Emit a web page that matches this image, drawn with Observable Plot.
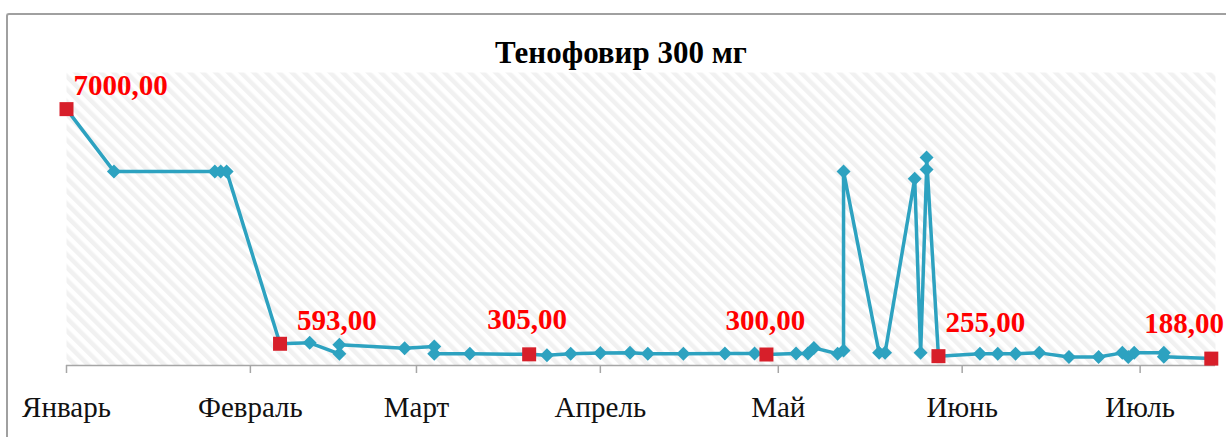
<!DOCTYPE html>
<html>
<head>
<meta charset="utf-8">
<script src="https://cdn.jsdelivr.net/npm/d3@7"></script>
<script src="https://cdn.jsdelivr.net/npm/@observablehq/plot@0.6"></script>
<style>
  html, body { margin: 0; padding: 0; background: #fff; overflow: hidden; }
  #wrap { position: relative; width: 1226px; height: 437px; overflow: hidden; }
  #border { position: absolute; left: 6px; top: 13px; width: 1400px; height: 600px;
            border-top: 2px solid #a0a0a0; border-left: 2px solid #a0a0a0; border-top-left-radius: 3px; box-sizing: border-box; }
  #title { position: absolute; left: 0; top: 37px; width: 1242px; text-align: center;
           font-family: "Liberation Serif", serif; font-weight: bold; font-size: 31px; line-height: 1; color: #000; }
  #chart { position: absolute; left: 0; top: 0; }
</style>
</head>
<body>
<div id="wrap">
  <div id="border"></div>
  <div id="chart"></div>
  <div id="title">Тенофовир 300 мг</div>
</div>
<script>
// ---- data ----
const dates = ["2019-01-01","2019-01-09","2019-01-26","2019-01-27","2019-01-28","2019-02-06","2019-02-11","2019-02-16","2019-02-16","2019-02-27",
  "2019-03-04","2019-03-04","2019-03-10","2019-03-20","2019-03-23","2019-03-27","2019-04-01","2019-04-06","2019-04-09","2019-04-15",
  "2019-04-22","2019-04-27","2019-04-29","2019-05-04","2019-05-06","2019-05-07","2019-05-11","2019-05-12","2019-05-12","2019-05-18",
  "2019-05-19","2019-05-24","2019-05-25","2019-05-26","2019-05-26","2019-05-28","2019-06-04","2019-06-07","2019-06-10","2019-06-14",
  "2019-06-19","2019-06-24","2019-06-28","2019-06-29","2019-06-30","2019-07-05","2019-07-05","2019-07-13"];
const values = [7000,5300,5300,5300,5300,593,620,320,565,473,
  520,320,320,305,280,320,340,345,320,320,
  330,330,300,330,330,480,320,410,5300,345,
  345,5100,345,5350,5680,255,320,320,320,345,
  230,230,345,230,345,345,240,188];
const highlightIdx = [0,5,13,22,35,47];
const labelTexts = ["7000,00","593,00","305,00","300,00","255,00","188,00"];
const labelDx = [7,17,-42,-41,7,-67];
const labelDy = [-14,-14,-25,-25,-24,-26];
const monthLabels = ["Январь","Февраль","Март","Апрель","Май","Июнь","Июль"];
const monthTicks = ["2019-01-01","2019-02-01","2019-03-01","2019-04-01","2019-05-01","2019-06-01","2019-07-01"];

// ---- build ----
const data = dates.map((d, i) => ({date: new Date(d + "T00:00:00Z"), value: values[i], i}));
const hl = highlightIdx.map((k, j) => ({...data[k], label: labelTexts[j], dx: labelDx[j], dy: labelDy[j]}));
const plain = data.filter(d => !highlightIdx.includes(d.i));
const tickDates = monthTicks.map(d => new Date(d + "T00:00:00Z"));

const teal = "#2da2c0";
const marks = [
  Plot.frame({fill: "url(#hatch)", stroke: null}),
  Plot.ruleY([0], {stroke: "#a6a6a6", strokeWidth: 1.5}),
  Plot.axisX({ticks: tickDates, tickFormat: (d) => monthLabels[tickDates.findIndex(t => +t === +d)],
    tickSize: 8, tickPadding: 23, stroke: "#a6a6a6", strokeWidth: 1.5, fill: "#111",
    fontSize: 29, fontFamily: "Liberation Serif, serif", label: null}),
  Plot.line(data, {x: "date", y: "value", stroke: teal, strokeWidth: 3.5}),
  Plot.dot(plain, {x: "date", y: "value", symbol: "diamond2", r: 6.3, fill: teal, stroke: null}),
  Plot.dot(hl, {x: "date", y: "value", symbol: "square", r: 7.9, fill: "#d71f2a", stroke: null}),
];
hl.forEach(h => {
  marks.push(Plot.text([h], {x: "date", y: "value", text: "label", dx: h.dx, dy: h.dy,
    textAnchor: "start", lineAnchor: "bottom", fill: "#ff0000", fontWeight: "bold",
    fontSize: 29, fontFamily: "Liberation Serif, serif"}));
});

const chart = Plot.plot({
  width: 1226, height: 437,
  marginLeft: 66, marginRight: 11, marginTop: 72, marginBottom: 72,
  style: {background: "transparent", overflow: "visible"},
  x: {type: "utc", domain: [new Date("2019-01-01T00:00:00Z"), new Date("2019-07-13T17:00:00Z")], axis: null},
  y: {domain: [0, 8000], axis: null},
  marks
});

// hatch pattern
const ns = "http://www.w3.org/2000/svg";
const defs = document.createElementNS(ns, "defs");
defs.innerHTML = `<pattern id="hatch" patternUnits="userSpaceOnUse" width="9" height="9" patternTransform="rotate(-45)">
  <rect width="9" height="9" fill="#ffffff"/><rect width="4.5" height="9" fill="#f1f1f1"/></pattern>`;
chart.insertBefore(defs, chart.firstChild);
document.getElementById("chart").appendChild(chart);
</script>
</body>
</html>
